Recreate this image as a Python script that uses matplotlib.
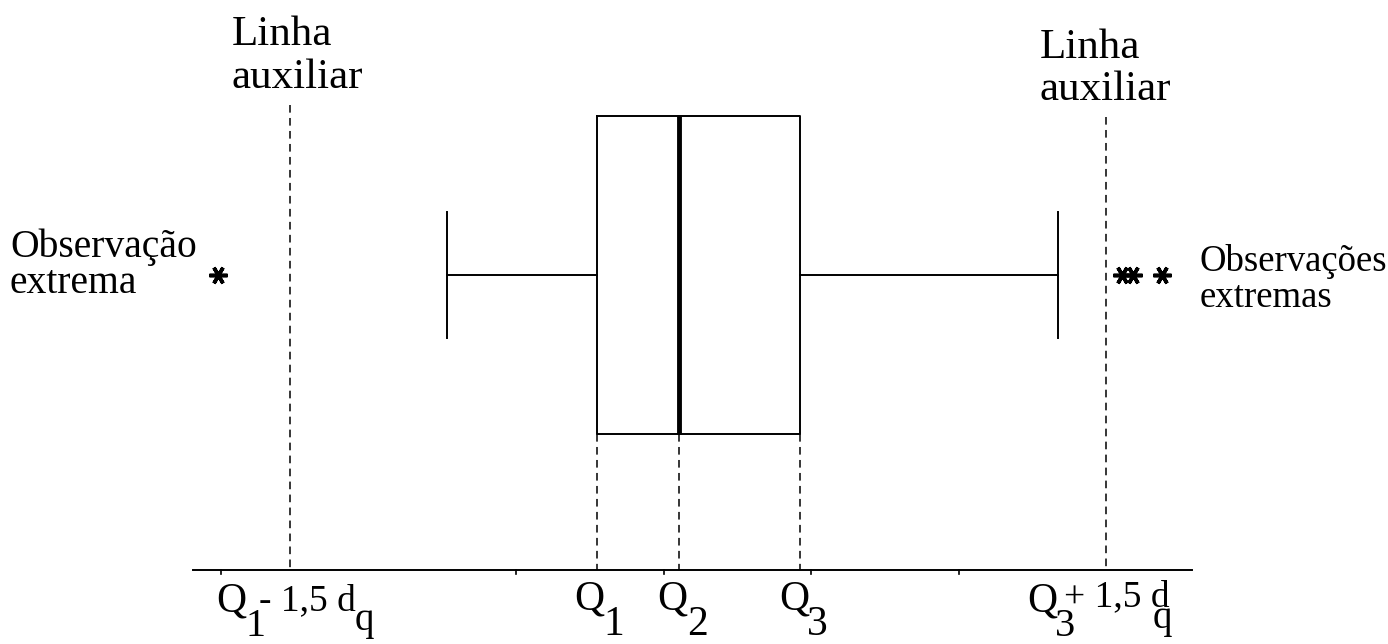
import matplotlib.pyplot as plt

plt.rcParams['font.family'] = ['Liberation Serif', 'DejaVu Serif']

# box plot values (horizontal position, same units as the drawing)
q1, q2, q3 = 597, 679, 800
whisker_lo, whisker_hi = 447, 1058
fence_lo, fence_hi = 290, 1106
outliers = [218, 1122, 1133, 1162]
axis_ticks = [221, 516, 664, 811, 959]

fig = plt.figure(figsize=(13.88, 6.44), dpi=100)
ax = fig.add_axes([0, 0, 1, 1])
ax.set_xlim(0, 1388)
ax.set_ylim(644, 0)
ax.axis('off')

ypos = 275
stats = [dict(med=q2, q1=q1, q3=q3, whislo=whisker_lo, whishi=whisker_hi, fliers=outliers)]
ax.bxp(stats, positions=[ypos], widths=[318], capwidths=[126], orientation='horizontal',
       boxprops=dict(color='black', lw=1.4),
       whiskerprops=dict(color='black', lw=1.4),
       capprops=dict(color='black', lw=1.4),
       medianprops=dict(color='black', lw=3.5),
       flierprops=dict(marker=(6, 2, 90), markersize=13, markeredgewidth=2.6,
                       markeredgecolor='black'),
       manage_ticks=False)

# horizontal axis
ax.plot([193, 1192], [570, 570], color='black', lw=1.4)
for t in axis_ticks:
    ax.plot([t, t], [570, 574], color='black', lw=1.2)

dash = dict(color='black', lw=1.1, ls=(0, (5, 3.5)))
ax.plot([fence_lo, fence_lo], [105, 570], **dash)
ax.plot([fence_hi, fence_hi], [117, 570], **dash)
for q in (q1, q2, q3):
    ax.plot([q, q], [434, 570], **dash)

# annotations
ax.text(232, 45, 'Linha', fontsize=31, va='baseline')
ax.text(232, 88, 'auxiliar', fontsize=31, va='baseline')
ax.text(1040, 58, 'Linha', fontsize=31, va='baseline')
ax.text(1040, 100, 'auxiliar', fontsize=31, va='baseline')

ax.text(10, 257, 'Observação', fontsize=28.5, va='baseline')
ax.text(10, 293, 'extrema', fontsize=28.5, va='baseline')
ax.text(1200, 271, 'Observações', fontsize=26.5, va='baseline')
ax.text(1200, 307, 'extremas', fontsize=26.5, va='baseline')

# bottom labels: (x, text, baseline, size)
pieces = [
    (216, 'Q', 612, 30), (246, '1', 636, 29), (259, '- 1,5 d', 610, 27), (355, 'q', 630, 28),
    (574, 'Q', 610, 30), (603, '1', 635, 30),
    (657, 'Q', 610, 30), (687, '2', 635, 30),
    (779, 'Q', 610, 30), (807, '3', 635, 30),
    (1027, 'Q', 612, 30), (1055, '3', 636, 29), (1064, '+ 1,5 d', 606, 27), (1153, 'q', 628, 28),
]
for x, s, yb, fs in pieces:
    ax.text(x, yb, s, fontsize=fs, va='baseline')

fig.savefig('out.png', dpi=100)
